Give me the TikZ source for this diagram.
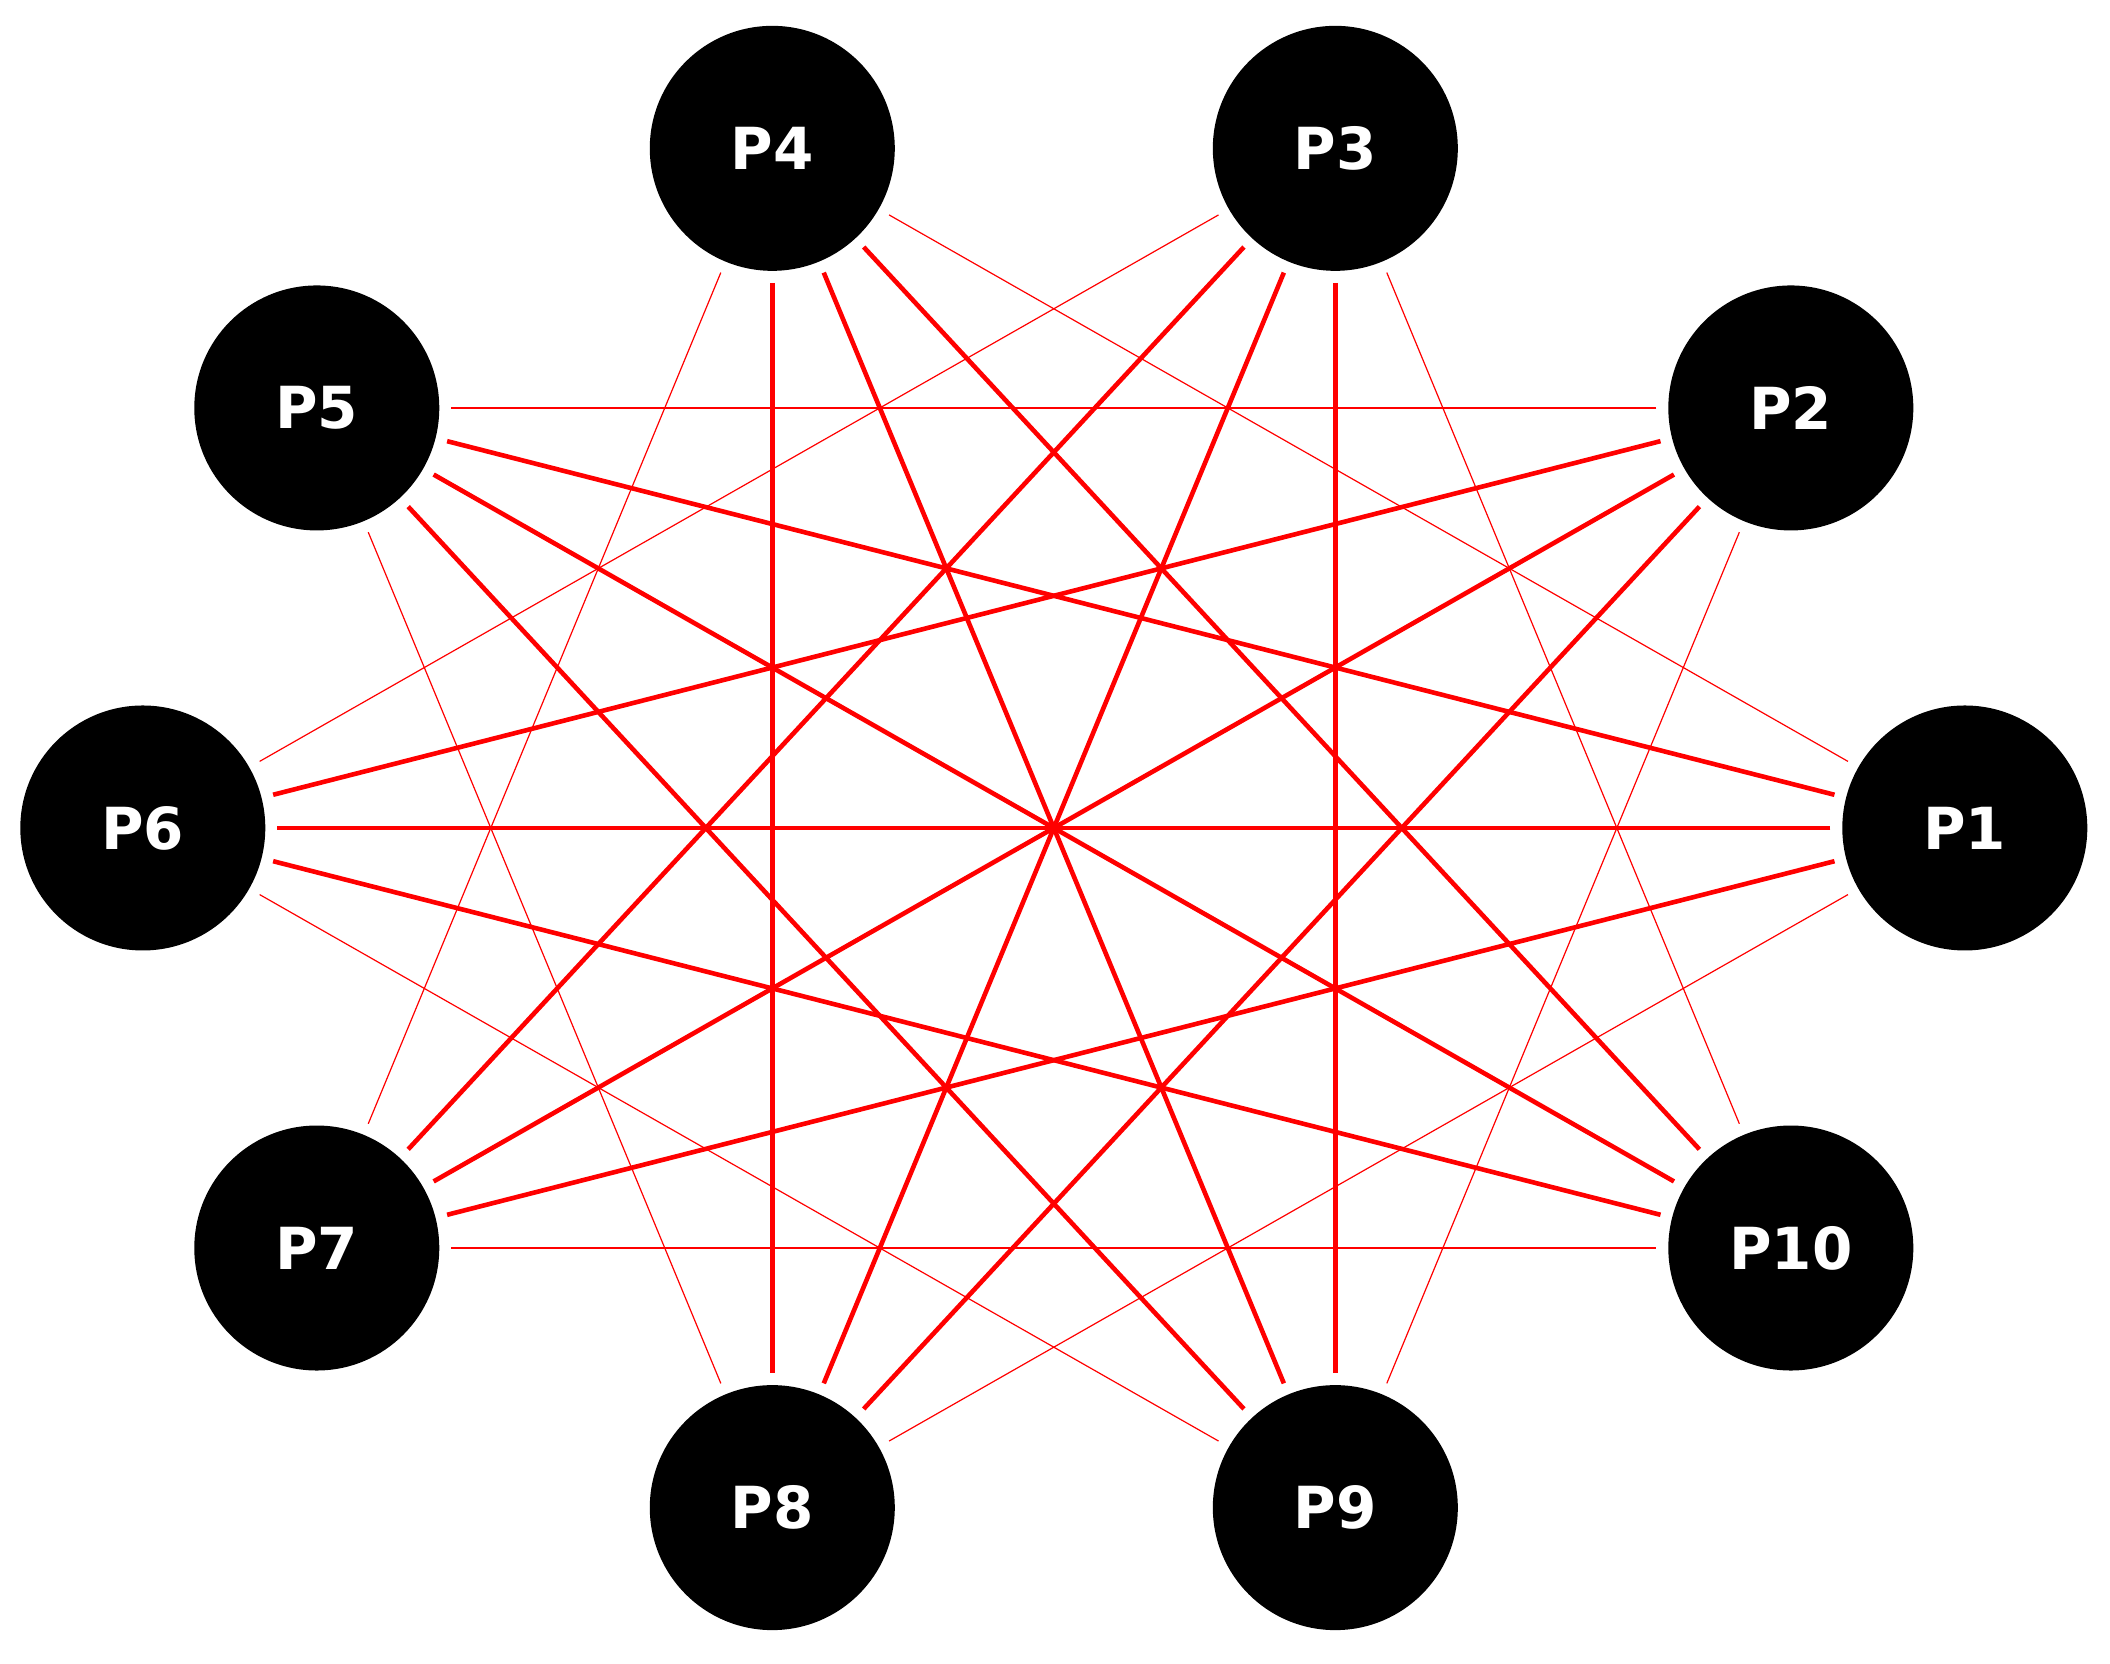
\documentclass[tikz,border=0pt]{standalone}
\usepackage{fontspec}
\setmainfont{DejaVu Sans}
\begin{document}
\begin{tikzpicture}[x=1pt,y=1pt,
  pnode/.style={circle,fill=black,minimum size=122.5pt,inner sep=0pt,outer sep=6pt,text=white,font=\bfseries\fontsize{29}{29}\selectfont},
  thickedge/.style={red,line width=2.3pt},
  thinedge/.style={red,line width=0.6pt}]
\useasboundingbox (0,0) rectangle (1055,832);
\foreach \k in {1,...,10}{
  \pgfmathsetmacro{\a}{36*(\k-1)}
  \node[pnode] (P\k) at ({526.9+455.5*cos(\a)},{418+357.3*sin(\a)}) {P\k};
}
\foreach \i in {1,...,10}{
  \foreach \j in {1,...,10}{
    \pgfmathtruncatemacro{\d}{\j-\i}
    \ifnum\d=3 \draw[thinedge] (P\i) -- (P\j);\fi
    \ifnum\d=7 \draw[thinedge] (P\i) -- (P\j);\fi
    \ifnum\d=4 \draw[thickedge] (P\i) -- (P\j);\fi
    \ifnum\d=6 \draw[thickedge] (P\i) -- (P\j);\fi
    \ifnum\d=5 \draw[thickedge] (P\i) -- (P\j);\fi
  }
}
\end{tikzpicture}
\end{document}
